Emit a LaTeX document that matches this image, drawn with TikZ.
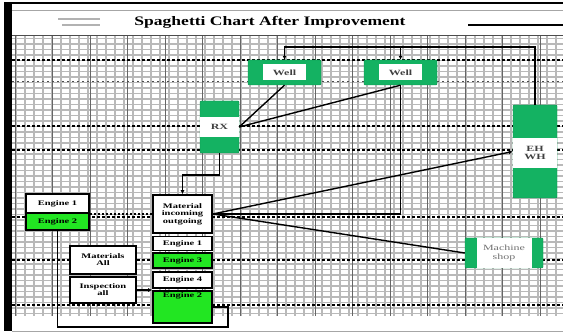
\documentclass[tikz,border=0pt]{standalone}
\usepackage{fontspec}
\setmainfont{Liberation Serif}
\newfontfamily\chartfont[FakeStretch=1.35]{Liberation Serif}
\newfontfamily\boxfont[FakeStretch=1.5]{Liberation Serif}
\usetikzlibrary{arrows.meta,positioning,calc}
\definecolor{wellgreen}{RGB}{20,178,98}
\definecolor{enggreen}{RGB}{34,230,34}
\definecolor{gridgray}{RGB}{185,185,185}

\begin{document}
\begin{tikzpicture}[x=1pt,y=-1pt,
  greenbox/.style={draw=wellgreen!80!black, fill=wellgreen, inner sep=0pt, rounded corners=1pt},
  band/.style={fill=white, inner sep=0pt, align=center, text=black!75,
    font=\boxfont\fontsize{8}{8.5}\selectfont\bfseries},
  engbox/.style={draw=black, line width=1.6pt, fill=white, inner sep=0pt, align=center,
    minimum width=63pt, font=\boxfont\fontsize{7}{7}\selectfont\bfseries},
  flow/.style={line width=1.4pt, black},
  tip/.style={-{Latex[length=4pt,width=4pt]}},
  rowline/.style={black, line width=1.6pt, dash pattern=on 3pt off 2pt}]
\useasboundingbox (0,0) rectangle (563,334);

% Frame and title
\fill[white] (0,0) rectangle (563,334);
\draw[gray!70] (12,10) -- (563,10);
\draw[gray!70] (12,331) -- (563,331);
\draw[black, line width=2.5pt] (4,3) -- (563,3);
\fill[black] (4,3) rectangle (12,331);
\draw[gray!60, line width=1.5pt] (58,19) -- (100,19);
\draw[gray!60, line width=1.5pt] (62,25) -- (100,25);
\draw[black, line width=2pt] (468,25) -- (563,25);
\node[font=\chartfont\fontsize{13}{15}\selectfont\bfseries] (title) at (270,22) {Spaghetti Chart After Improvement};

% Grid
\fill[white] (12,36) rectangle (563,316);
\foreach \y in {38.5,44,...,316} \draw[gridgray, line width=1.4pt] (12,\y) -- (563,\y);
\foreach \x in {16,25,...,563} \draw[gridgray, line width=1.2pt] (\x,36) -- (\x,316);
\foreach \x in {15,52.5,...,563} \draw[black!60, line width=0.7pt] (\x,36) -- (\x,316);
\draw[black!70] (12,35.5) -- (563,35.5);
\foreach \y in {60,126,150,217,260,305} \draw[rowline] (12,\y) -- (563,\y);
\draw[black!70, line width=1pt, dash pattern=on 2pt off 3pt] (12,82) -- (563,82);

% Wells
\node[greenbox, minimum width=73pt, minimum height=25pt] (well1) at (284.5,72.5) {};
\node[band, minimum width=43pt, minimum height=16pt] (well1t) at (well1) {Well};
\node[greenbox, minimum width=73pt, minimum height=25pt] (well2) at (400.5,72.5) {};
\node[band, minimum width=43pt, minimum height=16pt] (well2t) at (well2) {Well};

% RX, EH WH and machine shop
\node[greenbox, minimum width=39pt, minimum height=52pt] (rx) at (219.5,127) {};
\node[band, minimum width=39pt, minimum height=20pt] (rxt) at (rx) {RX};
\node[greenbox, minimum width=44pt, minimum height=93pt] (ehwh) at (535,151.5) {};
\node[band, minimum width=44pt, minimum height=30pt] (ehwht) at (535,153) {EH\\WH};
\node[greenbox, minimum width=78pt, minimum height=30pt] (mshop) at (504,253) {};
\node[band, minimum width=55pt, minimum height=30pt, text=black!55,
  font=\boxfont\fontsize{8}{8.5}\selectfont] (mshopt) at (mshop) {Machine\\shop};

% Engines on the left
\node[engbox, minimum height=19pt] (eng1L) at (57.5,203.5) {Engine 1};
\node[engbox, fill=enggreen, minimum height=17pt] (eng2L) at (57.5,221.5) {Engine 2};

% Material column
\node[engbox, minimum width=59pt, minimum height=38pt, font=\boxfont\fontsize{7}{7.5}\selectfont\bfseries] (mat) at (182.5,214) {Material\\incoming\\outgoing};
\node[engbox, minimum width=59pt, minimum height=14pt] (eng1R) at (182.5,243.5) {Engine 1};
\node[engbox, minimum width=59pt, minimum height=15pt, fill=enggreen] (eng3R) at (182.5,260.5) {Engine 3};
\node[engbox, minimum width=59pt, minimum height=16pt] (eng4R) at (182.5,280) {Engine 4};
\node[engbox, minimum width=59pt, minimum height=32pt, fill=enggreen,
  label={[label distance=-12pt, font=\boxfont\fontsize{7}{7}\selectfont\bfseries]north:Engine 2}] (eng2R) at (182.5,307) {};

% Materials and inspection
\node[engbox, minimum width=66pt, minimum height=28pt] (matall) at (103,260) {Materials\\All};
\node[engbox, minimum width=66pt, minimum height=26pt] (insp) at (103,290) {Inspection\\all};

% Flows
\coordinate (topline) at (0,47);
\coordinate (loopc) at (228,327);
\draw[flow, tip] (ehwh.north) -- (ehwh.north |- topline) -| (well1.north);
\draw[flow, tip] (well2.north |- topline) -- (well2.north);
\draw[flow] (well1.south) -- (rx.east);
\draw[flow] (well2.south) -- (rx.east);
\draw[flow] (well2.south) -- (well2.south |- mat.east) -- (mat.east);
\draw[flow, tip] (mat.east) -- (ehwh.west);
\draw[flow] (mat.east) -- (mshop.west);
\draw[flow, tip] (rx.south) -- ++(0,22) -| (mat.north);
\draw[flow, dash pattern=on 2.5pt off 1.5pt] (eng2L.east |- mat.west) -- (mat.west);
\draw[flow] (eng2L.south) |- (loopc) |- (eng2R.east);
\draw[flow, tip] (insp.east) -- (insp.east -| eng2R.west);
\end{tikzpicture}
\end{document}
